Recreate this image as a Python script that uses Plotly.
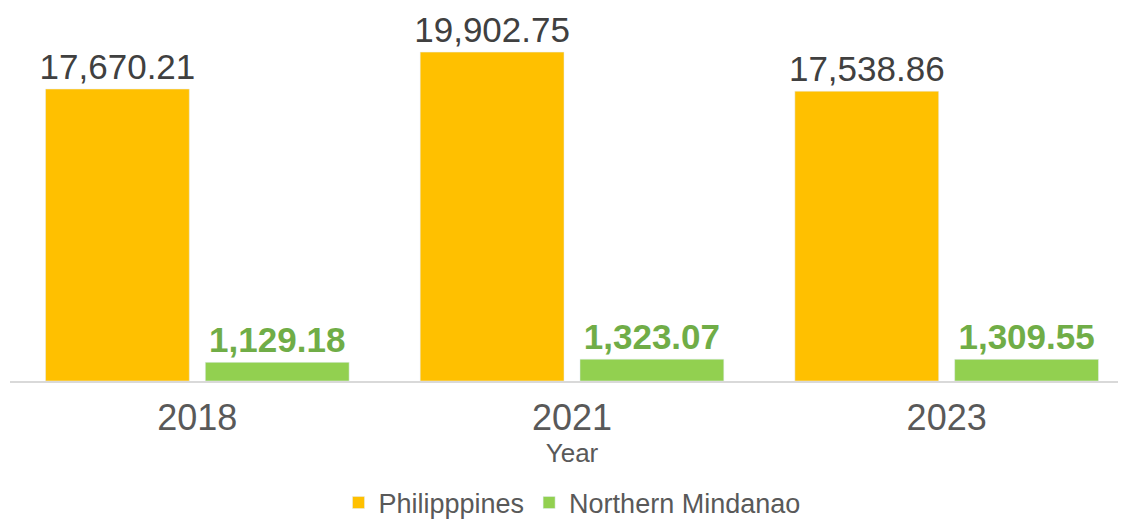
import plotly.graph_objects as go

years = ["2018", "2021", "2023"]
philippines = [17670.21, 19902.75, 17538.86]
northern_mindanao = [1129.18, 1323.07, 1309.55]

FONT = "Liberation Sans, Arial, sans-serif"

fig = go.Figure()

fig.add_trace(go.Bar(
    x=years,
    y=philippines,
    name="Philipppines",
    marker_color="#FFC000",
    text=[f"{v:,.2f}" for v in philippines],
    textposition="outside",
    constraintext="none",
    textfont=dict(size=35, color="#404040", family=FONT),
    cliponaxis=False,
))

fig.add_trace(go.Bar(
    x=years,
    y=northern_mindanao,
    name="Northern Mindanao",
    marker_color="#92D050",
    text=[f"<b>{v:,.2f}</b>" for v in northern_mindanao],
    textposition="outside",
    constraintext="none",
    textfont=dict(size=35, color="#70AD47", family=FONT),
    cliponaxis=False,
))

# the page body adds an 8px offset, so margins are set to compensate
fig.update_layout(
    width=1126,
    height=520,
    margin=dict(l=2, r=0, t=0, b=147, autoexpand=False),
    plot_bgcolor="white",
    paper_bgcolor="white",
    barmode="group",
    bargap=0.147,
    bargroupgap=0.1,
    font=dict(family=FONT, color="#595959"),
    showlegend=True,
    legend=dict(
        orientation="h",
        x=0.5,
        xanchor="center",
        y=-0.327,
        yanchor="middle",
        font=dict(size=27, color="#595959"),
        itemwidth=30,
    ),
)

fig.update_xaxes(
    automargin=False,
    showline=True,
    linecolor="#D9D9D9",
    linewidth=2,
    ticks="",
    ticklabelstandoff=4,
    tickfont=dict(size=36, color="#595959"),
    title=dict(text="Year", font=dict(size=26, color="#595959"), standoff=0),
)

fig.update_yaxes(
    range=[0, 22572],
    visible=False,
    showgrid=False,
)

fig.write_html("out.html")
